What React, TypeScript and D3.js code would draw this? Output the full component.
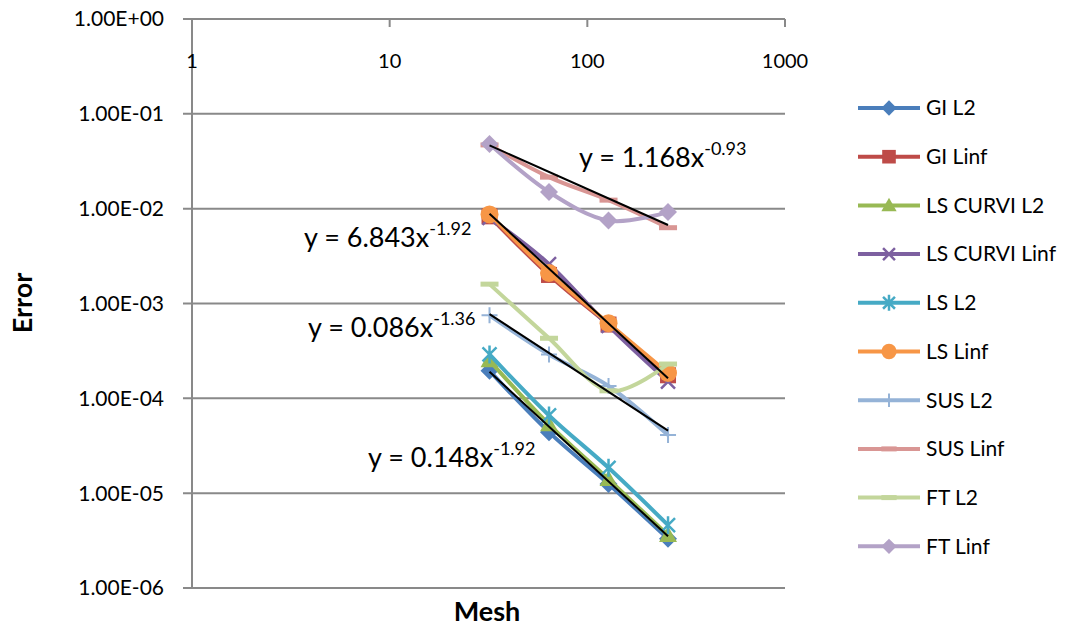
import React, { useEffect, useRef } from 'react';
import * as d3 from 'd3';

// mesh sizes (x) and error values
const meshSizes = [32, 64, 128, 256];

const seriesNames = [
  'GI L2',
  'GI Linf',
  'LS CURVI L2',
  'LS CURVI Linf',
  'LS L2',
  'LS Linf',
  'SUS L2',
  'SUS Linf',
  'FT L2',
  'FT Linf',
];

const giL2 = [1.95e-4, 4.4e-5, 1.25e-5, 3.3e-6];
const giLinf = [8.3e-3, 2.0e-3, 6.0e-4, 1.75e-4];
const lsCurviL2 = [2.5e-4, 5.3e-5, 1.4e-5, 3.6e-6];
const lsCurviLinf = [8.0e-3, 2.6e-3, 5.8e-4, 1.5e-4];
const lsL2 = [2.9e-4, 6.6e-5, 1.85e-5, 4.6e-6];
const lsLinf = [8.7e-3, 2.1e-3, 6.2e-4, 1.85e-4];
const susL2 = [7.5e-4, 2.9e-4, 1.35e-4, 4.1e-5];
const susLinf = [4.7e-2, 2.15e-2, 1.23e-2, 6.3e-3];
const ftL2 = [1.6e-3, 4.3e-4, 1.2e-4, 2.3e-4];
const ftLinf = [4.8e-2, 1.5e-2, 7.5e-3, 9.2e-3];

const seriesValues = [giL2, giLinf, lsCurviL2, lsCurviLinf, lsL2, lsLinf, susL2, susLinf, ftL2, ftLinf];

// power trendlines y = a * x^b
const trendCoefs = [1.168, 6.843, 0.086, 0.148];
const trendExps = [-0.93, -1.92, -1.36, -1.92];
const trendLabels = ['1.168', '6.843', '0.086', '0.148'];
const trendExpLabels = ['-0.93', '-1.92', '-1.36', '-1.92'];

const xTicks = [1, 10, 100, 1000];
const yTicks = [1, 1e-1, 1e-2, 1e-3, 1e-4, 1e-5, 1e-6];
const yTickLabels = ['1.00E+00', '1.00E-01', '1.00E-02', '1.00E-03', '1.00E-04', '1.00E-05', '1.00E-06'];

const colors = ['#4A7EBB', '#BE4B48', '#98B954', '#7D60A0', '#46AAC5', '#F79646', '#95B3D7', '#D99694', '#C3D69B', '#B3A2C7'];
const markers = ['diamond', 'square', 'triangle', 'x', 'star', 'circle', 'plus', 'dash', 'dash', 'diamond'];

// where the equation labels sit (left, baseline)
const trendLabelPos = [
  [579, 167],
  [304, 247],
  [308, 337],
  [368, 467],
];

const FONT = 'Lato, "Open Sans", sans-serif';

const drawMarker = (g, type, x, y, color, s = 1) => {
  if (type === 'diamond') {
    const r = 9 * s;
    g.append('path').attr('d', `M${x},${y - r}L${x + r},${y}L${x},${y + r}L${x - r},${y}Z`).attr('fill', color);
  } else if (type === 'square') {
    const r = 8 * s;
    g.append('rect').attr('x', x - r).attr('y', y - r).attr('width', 2 * r).attr('height', 2 * r).attr('fill', color);
  } else if (type === 'triangle') {
    const r = 9 * s;
    g.append('path').attr('d', `M${x},${y - r}L${x + r},${y + r * 0.75}L${x - r},${y + r * 0.75}Z`).attr('fill', color);
  } else if (type === 'circle') {
    g.append('circle').attr('cx', x).attr('cy', y).attr('r', 9 * s).attr('fill', color);
  } else if (type === 'x') {
    const r = 7 * s;
    g.append('path').attr('d', `M${x - r},${y - r}L${x + r},${y + r}M${x - r},${y + r}L${x + r},${y - r}`)
      .attr('stroke', color).attr('stroke-width', 2.5);
  } else if (type === 'star') {
    const r = 7 * s;
    g.append('path').attr('d', `M${x - r},${y - r}L${x + r},${y + r}M${x - r},${y + r}L${x + r},${y - r}M${x},${y - r - 2}L${x},${y + r + 2}`)
      .attr('stroke', color).attr('stroke-width', 2.5);
  } else if (type === 'plus') {
    const r = 8 * s;
    g.append('path').attr('d', `M${x - r},${y}L${x + r},${y}M${x},${y - r}L${x},${y + r}`)
      .attr('stroke', color).attr('stroke-width', 2);
  } else if (type === 'dash') {
    const r = 9 * s;
    g.append('rect').attr('x', x - r).attr('y', y - 2.5).attr('width', 2 * r).attr('height', 5).attr('fill', color);
  }
};

const App = () => {
  const svgRef = useRef(null);

  useEffect(() => {
    const svg = d3.select(svgRef.current);
    svg.selectAll('*').remove();

    const x = d3.scaleLog().domain([1, 1000]).range([192, 785]);
    const y = d3.scaleLog().domain([1e-6, 1]).range([588, 19]);

    // gridlines + y tick marks
    svg.append('g')
      .selectAll('line')
      .data(yTicks)
      .enter()
      .append('line')
      .attr('x1', 183)
      .attr('x2', x(1000))
      .attr('y1', (d) => y(d))
      .attr('y2', (d) => y(d))
      .attr('stroke', '#898989')
      .attr('stroke-width', 2);

    // y axis
    svg.append('line')
      .attr('x1', x(1)).attr('x2', x(1))
      .attr('y1', y(1)).attr('y2', y(1e-6))
      .attr('stroke', '#898989').attr('stroke-width', 2);

    // x ticks hang down from the top line
    svg.append('g')
      .selectAll('line')
      .data(xTicks.slice(1))
      .enter()
      .append('line')
      .attr('x1', (d) => x(d)).attr('x2', (d) => x(d))
      .attr('y1', y(1)).attr('y2', y(1) + 8)
      .attr('stroke', '#898989').attr('stroke-width', 2);

    svg.append('g')
      .selectAll('text')
      .data(xTicks)
      .enter()
      .append('text')
      .attr('x', (d) => x(d))
      .attr('y', 68)
      .attr('text-anchor', 'middle')
      .attr('font-family', FONT)
      .attr('font-size', 20)
      .attr('fill', '#000')
      .text((d) => String(d));

    svg.append('g')
      .selectAll('text')
      .data(yTicks)
      .enter()
      .append('text')
      .attr('x', 164)
      .attr('y', (d) => y(d))
      .attr('dy', '0.35em')
      .attr('text-anchor', 'end')
      .attr('font-family', FONT)
      .attr('font-size', 21)
      .attr('fill', '#000')
      .text((d, i) => yTickLabels[i]);

    // axis titles
    svg.append('text')
      .attr('x', 487).attr('y', 621)
      .attr('text-anchor', 'middle')
      .attr('font-family', FONT).attr('font-weight', 'bold').attr('font-size', 27)
      .text('Mesh');

    svg.append('text')
      .attr('transform', 'translate(32,303) rotate(-90)')
      .attr('text-anchor', 'middle')
      .attr('font-family', FONT).attr('font-weight', 'bold').attr('font-size', 27)
      .text('Error');

    // series (smoothed lines like the spreadsheet)
    const line = d3.line()
      .x((d) => x(d[0]))
      .y((d) => y(d[1]))
      .curve(d3.curveCatmullRom.alpha(0));

    seriesValues.forEach((vals, i) => {
      const pts = meshSizes.map((m, j) => [m, vals[j]]);
      const g = svg.append('g');
      g.append('path')
        .attr('d', line(pts))
        .attr('fill', 'none')
        .attr('stroke', colors[i])
        .attr('stroke-width', 4);
      pts.forEach((p) => drawMarker(g, markers[i], x(p[0]), y(p[1]), colors[i]));
    });

    // trendlines
    const x0 = meshSizes[0];
    const x1 = meshSizes[meshSizes.length - 1];
    trendCoefs.forEach((a, i) => {
      const b = trendExps[i];
      svg.append('line')
        .attr('x1', x(x0)).attr('y1', y(a * Math.pow(x0, b)))
        .attr('x2', x(x1)).attr('y2', y(a * Math.pow(x1, b)))
        .attr('stroke', '#000').attr('stroke-width', 2);

      const t = svg.append('text')
        .attr('x', trendLabelPos[i][0]).attr('y', trendLabelPos[i][1])
        .attr('font-family', FONT).attr('font-size', 27).attr('fill', '#000');
      t.append('tspan').text(`y = ${trendLabels[i]}x`);
      t.append('tspan').attr('dy', -12).attr('font-size', 18).text(trendExpLabels[i]);
    });

    // legend
    const legend = svg.append('g');
    seriesNames.forEach((name, i) => {
      const ly = 108 + i * 48.7;
      legend.append('line')
        .attr('x1', 858).attr('x2', 920)
        .attr('y1', ly).attr('y2', ly)
        .attr('stroke', colors[i]).attr('stroke-width', 4);
      drawMarker(legend, markers[i], 889, ly, colors[i], 0.85);
      legend.append('text')
        .attr('x', 926).attr('y', ly)
        .attr('dy', '0.35em')
        .attr('font-family', FONT).attr('font-size', 21)
        .text(name);
    });
  }, []);

  return (
    <svg
      ref={svgRef}
      width={1065}
      height={628}
      style={{ position: 'absolute', left: 0, top: 0, background: '#fff' }}
    ></svg>
  );
};

export default App;
